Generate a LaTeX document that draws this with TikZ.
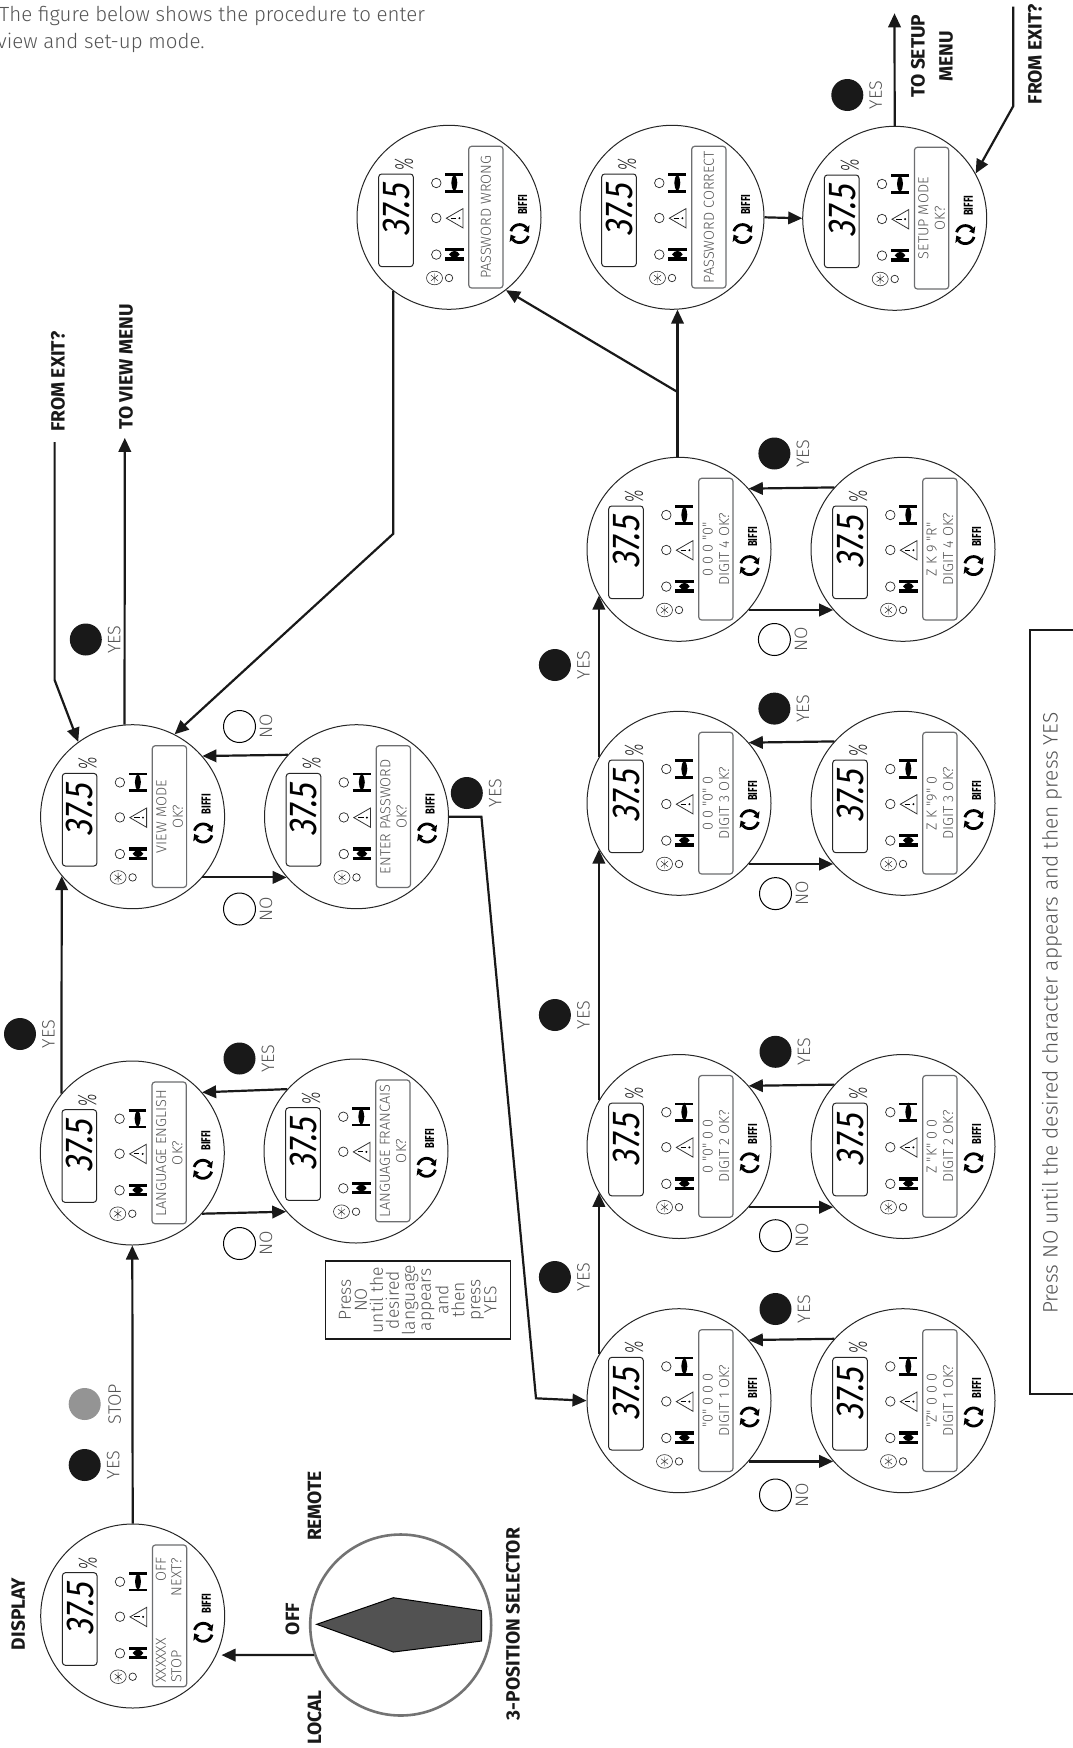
\documentclass[tikz,border=0pt]{standalone}
\usepackage{fontspec}
\setmainfont{Fira Sans Light}
\newfontfamily\boldf{Fira Sans Bold}
\newfontfamily\lightf{Fira Sans Light}
\newfontfamily\medf{Fira Sans}
\usetikzlibrary{arrows.meta,calc}
\definecolor{txtgray}{HTML}{555555}
\definecolor{boxgray}{HTML}{6d6e70}
\tikzset{
 conn/.style={line width=2.2pt,draw=black!90,-{Triangle[length=14pt,width=12.5pt]}},
 connp/.style={line width=2.2pt,draw=black!90},
 panelc/.style={circle,draw=black!85,line width=1pt,minimum size=184pt,inner sep=0pt,fill=white},
 dotyes/.style={circle,fill=black!90,minimum size=32pt,inner sep=0pt},
 dotno/.style={circle,draw=black,line width=1pt,minimum size=32pt,inner sep=0pt,fill=white},
 dotstop/.style={circle,fill=black!42,minimum size=32pt,inner sep=0pt},
 dotlabel/.style={rotate=90,text=txtgray,inner sep=0pt,font=\lightf\fontsize{18}{18}\selectfont},
 boldlabel/.style={rotate=90,text=black!90,inner sep=0pt,align=center,font=\boldf\fontsize{19.2}{28}\selectfont},
 paneltext/.style={rotate=90,text=txtgray,inner sep=0pt,align=center,font=\lightf\fontsize{14.5}{16.4}\selectfont},
 led/.style={circle,draw=black!85,line width=.7pt,minimum size=9.5pt,inner sep=0pt},
 bar/.style={line width=2.6pt,black},
 thickbar/.style={line width=3.4pt,black},
 logoarc/.style={line width=2.8pt,black},
}
\newcommand{\logopiece}[1]{%
  \draw[logoarc] plot[domain=#1-125:#1,samples=14] ({70.6+9*cos(\x)},{16.3+9*sin(\x)});
  \fill[black] ({70.6+5*cos(#1)},{16.3+5*sin(#1)}) -- ({70.6+13*cos(#1)},{16.3+13*sin(#1)}) -- ({70.6+9*cos(#1+34)},{16.3+9*sin(#1+34)}) -- cycle;}
\newcommand{\panelbody}[1]{%
 \begin{scope}[shift={(#1.center)}]
  \draw[line width=1pt,draw=black!85,rounded corners=3pt] (-70.3,-43.3) rectangle (-35.7,49.3);
  \node[transform shape,rotate=90,xslant=.16,xscale=.84,inner sep=0pt,font=\medf\fontsize{39}{39}\selectfont,text=black] (#1-val) at (-52.7,-8.7) {37.5};
  \node[transform shape,rotate=90,xslant=.1,xscale=.62,inner sep=0pt,font=\lightf\fontsize{26}{26}\selectfont,text=black!85] (#1-pct) at (-45,-53) {\%};
  \node[led] (#1-lto) at (-12.7,-34.3) {};
  \node[led] (#1-lal) at (-12.7,.7) {};
  \node[led] (#1-ltc) at (-12.7,37.3) {};
  \draw[bar] (-3.7,-42.7) -- (14,-42.7);
  \draw[bar] (-3.7,-26) -- (14,-26);
  \fill[black] (5.3,-44) .. controls (9.3,-38) and (9.3,-31) .. (5.3,-25) .. controls (1.3,-31) and (1.3,-38) .. cycle;
  \draw[line width=.8pt,black!80,line join=miter] (-2.7,.9) -- (14,-8.7) -- (14,10.6) -- cycle;
  \draw[line width=.9pt,black] (1.5,.9) -- (7,.9);
  \fill[black] (10.4,.9) circle [radius=1.1];
  \draw[thickbar] (-3.7,32.3) -- (14.5,32.3);
  \draw[thickbar] (-3.7,41.7) -- (14.5,41.7);
  \fill[black] (0,37) .. controls (3,32.5) and (8,32.5) .. (10.7,37) .. controls (8,41.5) and (3,41.5) .. cycle;
  \draw[line width=.6pt,black!80] (-14.5,60.7) ellipse [x radius=8,y radius=6.8];
  \draw[line width=.45pt,black!85] (-18,58) -- (-11,63.4) (-18,63.4) -- (-11,58) (-14.5,56) -- (-14.5,65.4);
  \node[led,minimum size=7.5pt] (#1-lbt) at (0,60.7) {};
  \draw[line width=1.2pt,draw=boxgray,rounded corners=3pt] (19.7,-71) rectangle (54,70.7);
  \node[rotate=90,inner sep=0pt,text=black,font=\boldf\fontsize{13}{13}\selectfont,transform shape,xscale=.72] (#1-brand) at (73.6,-12.5) {BIFFI};
  \logopiece{320}
  \logopiece{140}
 \end{scope}}
\newcommand{\panel}[4]{%
 \node[panelc] (#1) at (#2,#3) {};
 \panelbody{#1}%
 \node[paneltext] (#1-msg) at ($(#1.center)+(37,0)$) {#4};}
\newcommand{\yesdot}[3]{%
 \node[dotyes] (#1) at (#2,#3) {};
 \node[dotlabel] (#1-t) at ($(#1.center)+(28.5,0)$) {YES};}
\newcommand{\nodot}[3]{%
 \node[dotno] (#1) at (#2,#3) {};
 \node[dotlabel] (#1-t) at ($(#1.center)+(26.5,0)$) {NO};}
\begin{document}
\begin{tikzpicture}[x=1pt,y=-1pt]
\useasboundingbox (0,0) rectangle (1073,1748);
\fill[white] (0,0) rectangle (1073,1748);
% intro
\node[anchor=west,inner sep=0pt,text=txtgray,font=\lightf\fontsize{20.5}{20.5}\selectfont] (intro1) at (-1,16) {The figure below shows the procedure to enter};
\node[anchor=west,inner sep=0pt,text=txtgray,font=\lightf\fontsize{20.5}{20.5}\selectfont] (intro2) at (-3,43) {view and set-up mode.};
% panels
\panel{disp}{132.7}{1616}{}
\node[rotate=90,anchor=west,inner sep=0pt,align=left,text=txtgray,font=\lightf\fontsize{14.5}{15.5}\selectfont] (disp-l) at (36.5+132.7-.5,1683) {XXXXXX\\STOP};
\node[rotate=90,anchor=east,inner sep=0pt,align=right,text=txtgray,font=\lightf\fontsize{14.5}{15.5}\selectfont] (disp-r) at (36.5+132.7-.5,1557.5) {OFF\\NEXT?};
\panel{eng}{132.3}{1153}{LANGUAGE ENGLISH\\OK?}
\panel{fran}{356}{1151}{LANGUAGE FRANCAIS\\OK?}
\panel{view}{132.6}{816.7}{VIEW MODE\\OK?}
\panel{enter}{356.5}{816.7}{ENTER PASSWORD\\OK?}
\panel{wrong}{449}{217.3}{PASSWORD WRONG}
\panel{correct}{672}{217.3}{PASSWORD CORRECT}
\panel{setup}{894.7}{218.3}{SETUP MODE\\OK?}
\panel{d1a}{679}{1400.7}{"0" 0 0 0\\DIGIT 1 OK?}
\panel{d1b}{903}{1400.7}{"Z" 0 0 0\\DIGIT 1 OK?}
\panel{d2a}{679}{1146.5}{0 "0" 0 0\\DIGIT 2 OK?}
\panel{d2b}{903}{1146.5}{Z "K" 0 0\\DIGIT 2 OK?}
\panel{d3a}{679}{803.3}{0 0 "0" 0\\DIGIT 3 OK?}
\panel{d3b}{903}{803.3}{Z K "9" 0\\DIGIT 3 OK?}
\panel{d4a}{679}{549.3}{0 0 0 "0"\\DIGIT 4 OK?}
\panel{d4b}{903}{549.3}{Z K 9 "R"\\DIGIT 4 OK?}
% selector
\node[circle,draw=black!55,line width=2.6pt,minimum size=181pt,inner sep=0pt] (sel) at (400.7,1625) {};
\draw[fill=black!68,draw=black,line width=1pt] (316.7,1624.3) -- (393.3,1597.7) -- (481.7,1610.7) -- (481.7,1641) -- (393.3,1652) -- cycle;
% connectors
\draw[conn] (sel.199.3) -- ($(disp.-25.3)+(5,0)$);
\draw[conn] (disp.north) -- (eng.south);
\draw[conn] (eng.140) -- (view.220);
\draw[conn] (eng.-41.5) -- (fran.221.5);
\draw[conn] (fran.138.5) -- (eng.41.5);
\draw[conn] (view.-41.5) -- (enter.221.5);
\draw[conn] (enter.138.5) -- (view.41.5);
\foreach \n in {1,2,3,4}{
 \draw[conn] (d\n a.-41.5) -- (d\n b.221.5);
 \draw[conn] (d\n b.138.5) -- (d\n a.41.5);
}
\draw[conn] (d1a.150) -- (d2a.210);
\draw[conn] (d2a.150) -- (d3a.210);
\draw[conn] (d3a.150) -- (d4a.210);
\coordinate (junc) at (677.5,392);
\draw[connp] (d4a.north -| junc) -- (junc);
\draw[conn] (junc) -- (junc |- correct.-87);
\draw[conn] (junc) -- (wrong.-52);
\draw[conn] (correct.east) -- (setup.west);
\coordinate (tosetup) at (894.5,13.3);
\draw[conn] (setup.north) -- (tosetup);
\coordinate (exitr0) at (1013.3,6.7);
\coordinate (exitr1) at (1013.3,106);
\draw[conn] (exitr0) -- (exitr1) -- (setup.29);
\coordinate (toview) at (124.8,437.9);
\draw[conn] (view.95) -- (toview);
\coordinate (exitl0) at (54.6,442);
\coordinate (exitl1) at (54.6,680);
\draw[conn] (exitl0) -- (exitl1) -- (view.126);
\coordinate (wr1) at (393.3,533.7);
\draw[conn] (wrong.-127) -- (wr1) -- (view.63);
\coordinate (en1) at (481.4,816.7);
\coordinate (en2) at (536,1398.3);
\draw[conn] (enter.east) -- (en1) -- (en2) -- (d1a.west);
% dots
\yesdot{y01}{84.7}{1465}
\node[dotstop] (s01) at (84.7,1404) {};
\node[dotlabel] (s01-t) at ($(s01.center)+(30,0)$) {STOP};
\yesdot{y02}{20}{1034}
\yesdot{y03}{239.5}{1058.5}
\nodot{n03}{239.5}{1243.5}
\yesdot{y04}{85.8}{639.5}
\nodot{n04}{239.5}{726.5}
\nodot{n05}{239.5}{909}
\yesdot{y05}{466.8}{793}
\yesdot{y06}{554.9}{1277}
\yesdot{y07}{554.9}{1015}
\yesdot{y08}{554.9}{665}
\nodot{n06}{775.5}{1495}
\yesdot{y09}{775.5}{1309}
\nodot{n07}{775.5}{1235.7}
\yesdot{y10}{775.5}{1051.8}
\nodot{n08}{775.5}{893.6}
\yesdot{y11}{774.4}{708.6}
\nodot{n09}{774.4}{639.5}
\yesdot{y12}{774.4}{453.5}
\yesdot{y13}{847.3}{95}
% bold labels
\node[boldlabel] (ldisplay) at (18.3,1614) {DISPLAY};
\node[boldlabel] (loff) at (292.5,1619) {OFF};
\node[boldlabel] (llocal) at (314.5,1717.5) {LOCAL};
\node[boldlabel] (lremote) at (314.5,1506) {REMOTE};
\node[boldlabel] (lsel) at (513,1624) {3-POSITION SELECTOR};
\node[boldlabel] (lexitl) at (58,381.6) {FROM EXIT?};
\node[boldlabel] (ltoview) at (126,367) {TO VIEW MENU};
\node[boldlabel] (ltosetup) at (932,56) {TO SETUP\\MENU};
\node[boldlabel] (lexitr) at (1035,54) {FROM EXIT?};
% note boxes
\node[rotate=90,draw=black!90,line width=1.3pt,minimum width=78pt,minimum height=185pt,inner sep=0pt,text=txtgray,align=center,font=\lightf\fontsize{17.5}{16}\selectfont] (note1) at (417.8,1300) {Press\\NO\\until the\\desired\\language\\appears\\and\\then\\press\\YES};
\draw[line width=2pt,black!90] (1073,629.5) -- (1029.5,629.5) -- (1029.5,1394) -- (1073,1394);
\node[rotate=90,inner sep=0pt,text=txtgray,font=\lightf\fontsize{20.9}{20.9}\selectfont] (note2) at (1052,1013) {Press NO until the desired character appears and then press YES};
\end{tikzpicture}
\end{document}
